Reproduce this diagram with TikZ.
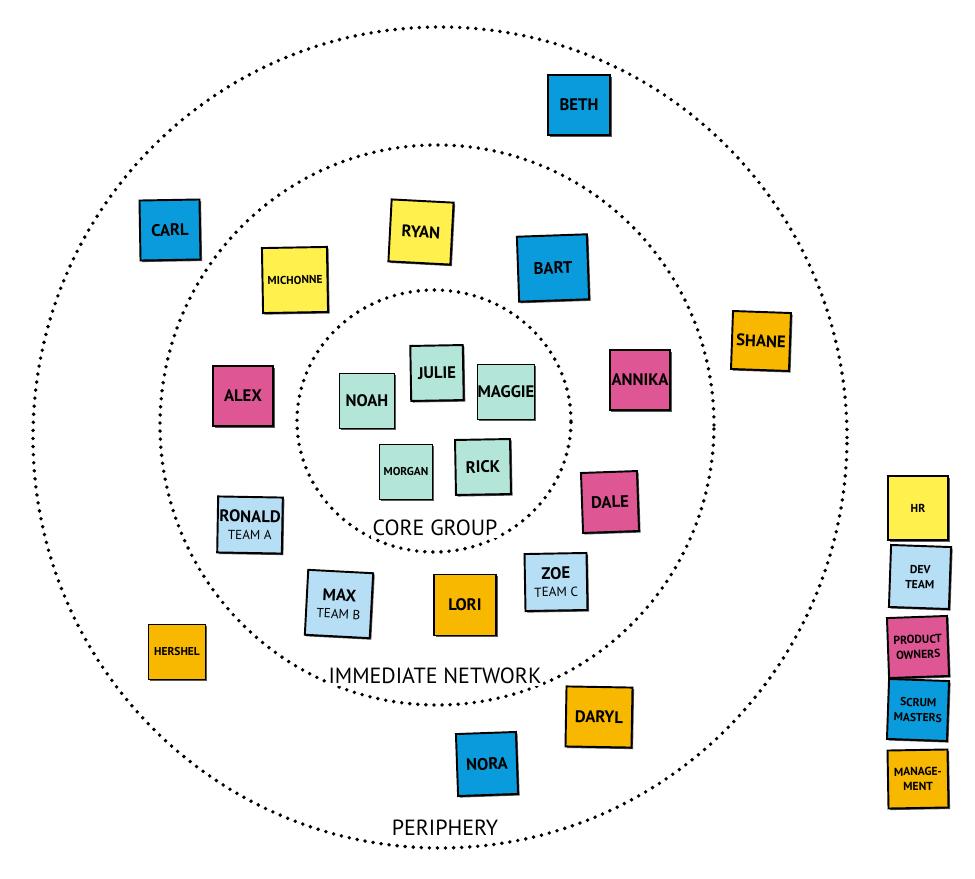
\documentclass[tikz,border=0pt]{standalone}
\usepackage{fontspec}
\setsansfont{PT Sans}
\usetikzlibrary{shadows}
\definecolor{NoteYellow}{HTML}{FFF04D}
\definecolor{NoteSky}{HTML}{B6DFF5}
\definecolor{NotePink}{HTML}{DE5693}
\definecolor{NoteBlue}{HTML}{0A9BDC}
\definecolor{NoteOrange}{HTML}{F9B800}
\definecolor{NoteMint}{HTML}{B3E5D9}
\newcommand{\teamtag}[1]{{\mdseries\fontsize{7.5}{9}\selectfont #1}}
\tikzset{
  sticky/.style={draw=black,line width=1.1pt,fill=#1,minimum width=1.2cm,minimum height=1.2cm,
    inner sep=1pt,align=center,font=\sffamily\bfseries\fontsize{9.5}{10}\selectfont,
    drop shadow={shadow xshift=0.9pt,shadow yshift=-0.9pt,fill=black!65,opacity=1}},
  tinyname/.style={font=\sffamily\bfseries\fontsize{6.5}{7.5}\selectfont},
  legendname/.style={font=\sffamily\bfseries\fontsize{6.6}{8.5}\selectfont},
  ring/.style={line width=2.2pt,dash pattern=on 0pt off 4.6pt,line cap=round},
  ringlabel/.style={font=\sffamily\fontsize{12.5}{14}\selectfont,fill=white,inner sep=1pt}
}
\begin{document}
\begin{tikzpicture}
  \fill[white] (0,0) rectangle (19.5,-17.58);
  \useasboundingbox (0,0) rectangle (19.5,-17.58);
  % the three rings
  \draw[ring] (8.80,-8.75) ellipse [x radius=8.14cm,y radius=8.21cm];
  \draw[ring] (8.74,-8.50) ellipse [x radius=5.54cm,y radius=5.60cm];
  \draw[ring] (8.68,-8.42) ellipse [x radius=2.74cm,y radius=2.62cm];
  \node[ringlabel] (corelbl) at (8.70,-10.56) {CORE GROUP};
  \node[ringlabel] (netlbl) at (8.70,-13.52) {IMMEDIATE NETWORK};
  \node[ringlabel] (perilbl) at (8.90,-16.56) {PERIPHERY};
  % core group
  \node[sticky=NoteMint,minimum size=1.1cm] (noah) at (7.34,-8.02) {NOAH};
  \node[sticky=NoteMint,minimum width=1.05cm,minimum height=1.1cm,rotate=1] (julie) at (8.74,-7.46) {JULIE};
  \node[sticky=NoteMint,minimum width=1.14cm,minimum height=1.1cm,inner sep=0pt] (maggie) at (10.12,-7.84) {MAGGIE};
  \node[sticky=NoteMint,tinyname,minimum width=1.06cm,minimum height=1.1cm] (morgan) at (8.12,-9.44) {MORGAN};
  \node[sticky=NoteMint,minimum size=1.1cm,rotate=1] (rick) at (9.66,-9.34) {RICK};
  % immediate network
  \node[sticky=NoteYellow,rotate=-3,minimum size=1.24cm] (ryan) at (8.42,-4.64) {RYAN};
  \node[sticky=NoteYellow,tinyname,minimum size=1.3cm,rotate=1] (michonne) at (5.90,-5.60) {MICHONNE};
  \node[sticky=NoteBlue,minimum width=1.4cm,minimum height=1.3cm,rotate=2] (bart) at (11.06,-5.36) {BART};
  \node[sticky=NotePink] (alex) at (4.86,-7.92) {ALEX};
  \node[sticky=NotePink,minimum width=1.16cm] (annika) at (12.80,-7.60) {ANNIKA};
  \node[sticky=NotePink,minimum width=1.12cm,rotate=2] (dale) at (12.20,-10.04) {DALE};
  \node[sticky=NoteSky,minimum width=1.16cm,minimum height=1.12cm,rotate=-1] (ronald) at (5.00,-10.50) {RONALD\\\teamtag{TEAM A}};
  \node[sticky=NoteSky,minimum width=1.24cm,minimum height=1.14cm,rotate=1] (zoe) at (11.12,-11.64) {ZOE\\\teamtag{TEAM C}};
  \node[sticky=NoteSky,minimum size=1.3cm,rotate=-3] (max) at (6.78,-12.08) {MAX\\\teamtag{TEAM B}};
  \node[sticky=NoteOrange,minimum width=1.24cm,minimum height=1.22cm] (lori) at (9.30,-12.10) {LORI};
  % periphery
  \node[sticky=NoteBlue,minimum width=1.24cm] (beth) at (11.58,-2.10) {BETH};
  \node[sticky=NoteBlue,rotate=1] (carl) at (3.40,-4.60) {CARL};
  \node[sticky=NoteOrange,minimum size=1.16cm,rotate=-2] (shane) at (15.22,-6.82) {SHANE};
  \node[sticky=NoteOrange,tinyname,minimum width=1.14cm,minimum height=1.1cm] (hershel) at (3.54,-13.04) {HERSHEL};
  \node[sticky=NoteOrange,minimum width=1.32cm,rotate=-1] (daryl) at (11.98,-14.34) {DARYL};
  \node[sticky=NoteBlue,minimum height=1.24cm,rotate=2] (nora) at (9.74,-15.28) {NORA};
  % legend
  \node[sticky=NoteYellow,legendname,minimum height=1.28cm] (hr) at (18.36,-10.16) {HR};
  \node[sticky=NoteSky,legendname,minimum height=1.24cm,rotate=-2] (devteam) at (18.40,-11.54) {DEV\\TEAM};
  \node[sticky=NotePink,legendname,rotate=2] (owners) at (18.36,-12.94) {PRODUCT\\OWNERS};
  \node[sticky=NoteBlue,legendname,rotate=-2] (masters) at (18.36,-14.20) {SCRUM\\MASTERS};
  \node[sticky=NoteOrange,legendname,minimum height=1.16cm,rotate=1] (mgmt) at (18.36,-15.58) {MANAGE-\\MENT};
\end{tikzpicture}
\end{document}
